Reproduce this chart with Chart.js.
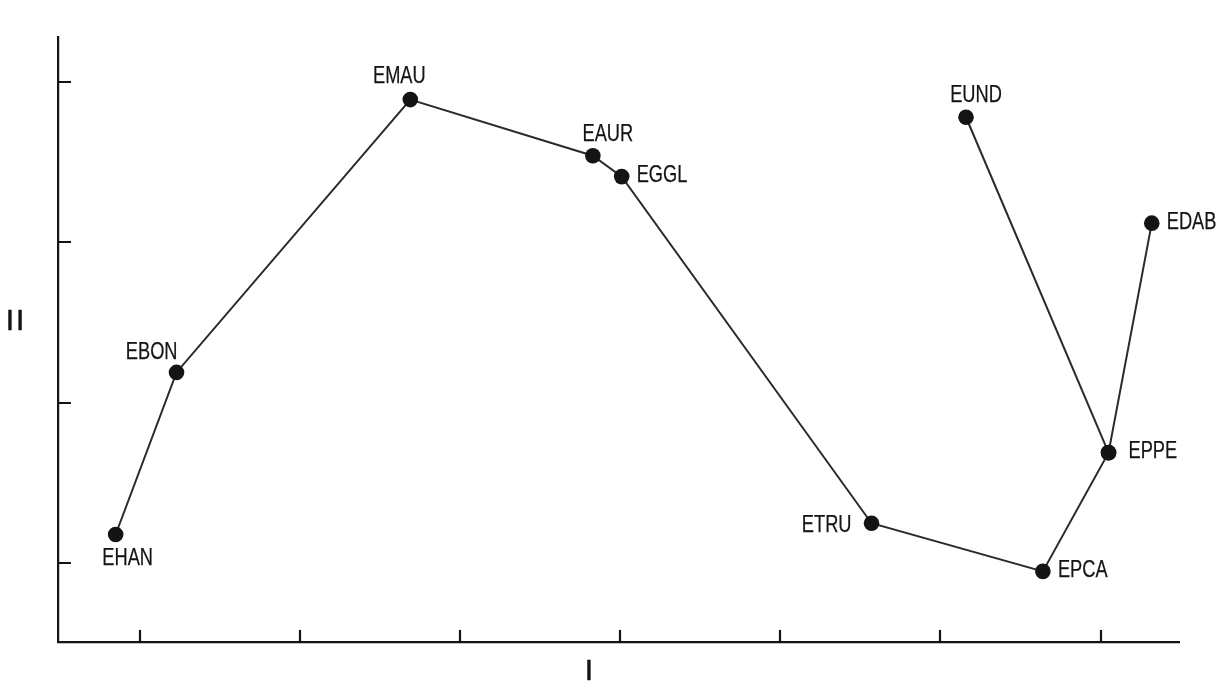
<!DOCTYPE html>
<html>
<head>
<meta charset="utf-8">
<title>Sites on dimensions I and II</title>
<script src="https://cdn.jsdelivr.net/npm/chart.js@4.4.1/dist/chart.umd.min.js"></script>
<style>
  html, body { margin: 0; padding: 0; background: #ffffff; }
  #wrap { width: 1221px; height: 684px; }
</style>
</head>
<body>
<div id="wrap"><canvas id="chart" width="1221" height="684"></canvas></div>
<script>
// Site scores on dimension I (horizontal) and dimension II (vertical)
const sites = ['EHAN', 'EBON', 'EMAU', 'EAUR', 'EGGL', 'ETRU', 'EPCA', 'EPPE', 'EUND', 'EDAB'];
const dimI  = [0.85, 1.23, 2.69, 3.83, 4.01, 5.57, 6.64, 7.05, 6.16, 7.32];
const dimII = [1.18, 2.19, 3.89, 3.54, 3.41, 1.25, 0.95, 1.69, 3.78, 3.12];

// Sequence joining the sites, plus the side branch off EPPE
const mainPath   = ['EHAN', 'EBON', 'EMAU', 'EAUR', 'EGGL', 'ETRU', 'EPCA', 'EPPE', 'EDAB'];
const branchPath = ['EPPE', 'EUND'];

// Unlabelled tick positions on each axis
const xTicks = [1, 2, 3, 4, 5, 6, 7];
const yTicks = [1, 2, 3, 4];

const xTitle = 'I';
const yTitle = 'II';

// Where each site name sits relative to its dot
const labelPlacement = {
  EHAN: { dx: 12,  dy: 24, align: 'center' },
  EBON: { dx: 1,   dy: -20, align: 'right' },
  EMAU: { dx: -11, dy: -23, align: 'center' },
  EAUR: { dx: 15,  dy: -21, align: 'center' },
  EGGL: { dx: 15,  dy: -1, align: 'left' },
  ETRU: { dx: -20, dy: 2, align: 'right' },
  EPCA: { dx: 15,  dy: -1, align: 'left' },
  EPPE: { dx: 20,  dy: -1, align: 'left' },
  EUND: { dx: 10,  dy: -22, align: 'center' },
  EDAB: { dx: 15,  dy: -1, align: 'left' }
};

const INK = '#141414';
const LINE = '#2a2a2a';
const FONT = '"Liberation Sans", Arial, sans-serif';
const NARROW = 0.76; // horizontal squeeze for the condensed lettering

const pointOf = name => {
  const i = sites.indexOf(name);
  return { x: dimI[i], y: dimII[i], name };
};

const lineStyle = {
  showLine: true,
  borderColor: LINE,
  borderWidth: 2,
  pointRadius: 7.8,
  pointHoverRadius: 7.8,
  pointBackgroundColor: INK,
  pointBorderWidth: 0,
  tension: 0
};

function narrowText(ctx, text, x, y, align) {
  ctx.save();
  ctx.translate(x, y);
  ctx.scale(NARROW, 1);
  ctx.textAlign = align;
  ctx.fillText(text, 0, 0);
  ctx.strokeText(text, 0, 0);
  ctx.restore();
}

// Inward tick marks and axis titles
const axisDecor = {
  id: 'axisDecor',
  afterDraw(chart) {
    const { ctx, chartArea, scales } = chart;
    ctx.save();
    ctx.strokeStyle = INK;
    ctx.lineWidth = 2.2;
    ctx.beginPath();
    xTicks.forEach(v => {
      const px = Math.round(scales.x.getPixelForValue(v));
      ctx.moveTo(px, chartArea.bottom);
      ctx.lineTo(px, chartArea.bottom - 12);
    });
    yTicks.forEach(v => {
      const py = Math.round(scales.y.getPixelForValue(v));
      ctx.moveTo(chartArea.left, py);
      ctx.lineTo(chartArea.left + 13, py);
    });
    ctx.stroke();

    ctx.fillStyle = INK;
    ctx.strokeStyle = INK;
    ctx.lineWidth = 0.5;
    ctx.font = '30px ' + FONT;
    ctx.textBaseline = 'middle';
    ctx.textAlign = 'center';
    ctx.fillText(xTitle, 589, 672);
    ctx.strokeText(xTitle, 589, 672);
    ctx.letterSpacing = '2px';
    ctx.fillText(yTitle, 16, 322);
    ctx.strokeText(yTitle, 16, 322);
    ctx.restore();
  }
};

// Site names beside their dots
const siteLabels = {
  id: 'siteLabels',
  afterDatasetsDraw(chart) {
    const { ctx, scales } = chart;
    ctx.save();
    ctx.fillStyle = INK;
    ctx.strokeStyle = INK;
    ctx.lineWidth = 0.25;
    ctx.font = '24px ' + FONT;
    ctx.textBaseline = 'middle';
    sites.forEach((name, i) => {
      const p = labelPlacement[name];
      const px = scales.x.getPixelForValue(dimI[i]);
      const py = scales.y.getPixelForValue(dimII[i]);
      narrowText(ctx, name, px + p.dx, py + p.dy, p.align);
    });
    ctx.restore();
  }
};

const noSize = axis => ({
  afterFit(scale) {
    if (axis === 'x') scale.height = 0; else scale.width = 0;
  }
});

new Chart(document.getElementById('chart'), {
  type: 'scatter',
  data: {
    datasets: [
      Object.assign({ label: 'main', data: mainPath.map(pointOf) }, lineStyle),
      Object.assign({ label: 'branch', data: branchPath.map(pointOf) }, lineStyle)
    ]
  },
  options: {
    responsive: false,
    animation: false,
    layout: { padding: { left: 58, right: 42, top: 37, bottom: 42 } },
    plugins: {
      legend: { display: false },
      tooltip: { enabled: false },
      title: { display: false }
    },
    scales: {
      x: Object.assign({
        type: 'linear',
        min: 0.49,
        max: 7.49,
        grid: { display: false },
        ticks: { display: false },
        border: { display: true, color: INK, width: 2.2 }
      }, noSize('x')),
      y: Object.assign({
        type: 'linear',
        min: 0.51,
        max: 4.28,
        grid: { display: false },
        ticks: { display: false },
        border: { display: true, color: INK, width: 2.2 }
      }, noSize('y'))
    }
  },
  plugins: [axisDecor, siteLabels]
});
</script>
</body>
</html>
